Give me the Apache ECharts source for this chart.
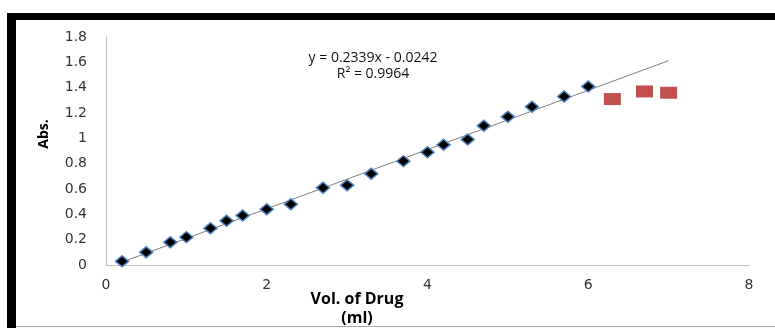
<!DOCTYPE html>
<html>
<head>
<meta charset="utf-8">
<script src="https://cdn.jsdelivr.net/npm/echarts@6/dist/echarts.min.js"></script>
<style>
html,body{margin:0;padding:0;background:#fff;}
#c{width:775px;height:328px;}
</style>
</head>
<body>
<div id="c"></div>
<script>
// Calibration points (blue diamonds)
var volX = [0.2, 0.5, 0.8, 1.0, 1.3, 1.5, 1.7, 2.0, 2.3, 2.7, 3.0, 3.3, 3.7, 4.0, 4.2, 4.5, 4.7, 5.0, 5.3, 5.7, 6.0];
var absY = [0.03, 0.10, 0.18, 0.22, 0.29, 0.35, 0.39, 0.44, 0.48, 0.61, 0.63, 0.72, 0.82, 0.89, 0.95, 0.99, 1.10, 1.17, 1.25, 1.33, 1.41];
// Excluded points (red squares)
var outX = [6.3, 6.7, 7.0];
var outY = [1.31, 1.37, 1.36];
// Trend line endpoints
var trendX = [0.2, 7.0];
var trendY = [0.023, 1.613];
var xTicks = ['0', '2', '4', '6', '8'];
var yTicks = ['0', '0.2', '0.4', '0.6', '0.8', '1', '1.2', '1.4', '1.6', '1.8'];
var eqText = 'y = 0.2339x - 0.0242\nR² = 0.9964';

function zip(a, b) { return a.map(function (v, i) { return [v, b[i]]; }); }

var chart = echarts.init(document.getElementById('c'));
chart.setOption({
  animation: false,
  backgroundColor: '#ffffff',
  grid: { left: 106, right: 26, top: 37, bottom: 63 },
  xAxis: {
    type: 'value', min: 0, max: 8, interval: 2,
    axisLine: { show: true, lineStyle: { color: '#BFBFBF', width: 1 } },
    axisTick: { show: false },
    splitLine: { show: false },
    axisLabel: {
      margin: 13, color: '#333333', fontFamily: 'DejaVu Sans', fontSize: 14,
      formatter: function (v) { return xTicks[Math.round(v / 2)]; }
    }
  },
  yAxis: {
    type: 'value', min: 0, max: 1.8, interval: 0.2,
    axisLine: { show: true, lineStyle: { color: '#BFBFBF', width: 1 } },
    axisTick: { show: false },
    splitLine: { show: false },
    axisLabel: {
      margin: 19, color: '#333333', fontFamily: 'DejaVu Sans', fontSize: 14,
      formatter: function (v) { return yTicks[Math.round(v / 0.2)]; }
    }
  },
  series: [
    {
      type: 'line', data: zip(trendX, trendY), symbol: 'none',
      lineStyle: { color: '#7F7F7F', width: 1 }, z: 2, silent: true
    },
    {
      type: 'scatter', data: zip(volX, absY), symbol: 'diamond', symbolSize: [13, 11],
      itemStyle: { color: '#000000', borderColor: '#4F81BD', borderWidth: 1.5, opacity: 1 }, z: 3
    },
    {
      type: 'scatter', data: zip(outX, outY), symbol: 'rect', symbolSize: [17, 12],
      itemStyle: { color: '#C0504D', opacity: 1 }, z: 3
    }
  ],
  graphic: [
    { type: 'rect', shape: { x: 7, y: 13, width: 768, height: 7 }, style: { fill: '#000' }, silent: true },
    { type: 'rect', shape: { x: 7, y: 13, width: 9, height: 315 }, style: { fill: '#000' }, silent: true },
    {
      type: 'text', x: 373, y: 50,
      style: { text: eqText, fill: '#111', font: '14px "Open Sans"', align: 'center', verticalAlign: 'top', lineHeight: 16 }
    },
    {
      type: 'text', x: 357, y: 290,
      style: { text: 'Vol. of Drug\n(ml)', fill: '#000', font: 'bold 16px "Open Sans"', align: 'center', verticalAlign: 'top', lineHeight: 19 }
    },
    { type: 'line', z: 10, shape: { x1: 16, y1: 326.5, x2: 775, y2: 326.5 }, style: { stroke: '#A6A6A6', lineWidth: 1 }, silent: true },
    {
      type: 'text', x: 44, y: 134, rotation: Math.PI / 2,
      style: { text: 'Abs.', fill: '#000', font: 'bold 14px "Open Sans"', align: 'center', verticalAlign: 'middle' }
    }
  ]
});
</script>
</body>
</html>
